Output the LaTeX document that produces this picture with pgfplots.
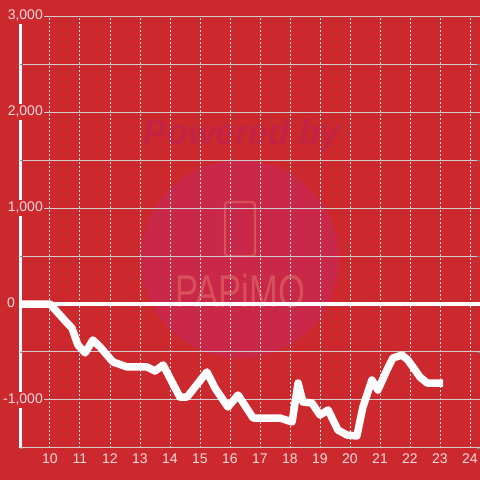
\documentclass[border=0pt]{standalone}
\usepackage{fontspec}
\setmainfont{Liberation Sans}
\usepackage{graphicx}
\usepackage{pgfplots}
\pgfplotsset{compat=1.18}
\usetikzlibrary{backgrounds}
\definecolor{bg}{RGB}{204,41,47}
\definecolor{wm}{RGB}{201,40,72}
\definecolor{wmtext}{RGB}{196,36,68}
\definecolor{wmlight}{RGB}{216,80,92}
\definecolor{ticktext}{RGB}{244,218,218}
\definecolor{hgrid}{RGB}{212,204,204}
\definecolor{vgrid}{RGB}{236,226,226}

\begin{document}
\begin{tikzpicture}
\begin{axis}[
  scale only axis, width=460pt, height=432pt,
  xmin=9, xmax=24.3333, ymin=-1500, ymax=3000,
  axis line style={draw=none},
  major tick length=0pt,
  xtick={10,11,...,24},
  ytick={-1000,1000,2000,3000},
  yticklabels={{\llap{-}1,000},{1,000},{2,000},{3,000}},
  minor ytick={-1500,-500,500,1500,2500},
  extra y ticks={0}, extra y tick labels={0},
  extra y tick style={yticklabel style={xshift=-28pt}},
  xmajorgrids, ymajorgrids, yminorgrids,
  x grid style={vgrid, line width=1pt, dash pattern=on 2pt off 2pt},
  y grid style={hgrid, line width=1pt, solid},
  minor grid style={hgrid, line width=1pt, solid},
  /pgf/number format/assume math mode=true,
  tick label style={text=ticktext},
  yticklabel style={font=\fontsize{14}{16}\selectfont, anchor=east,
    xshift=24.5pt, fill=bg, inner sep=1.5pt, text height=10pt, text depth=3pt},
  xticklabel style={font=\fontsize{14}{16}\selectfont, yshift=-2.5pt},
]
\coordinate (ll) at (rel axis cs:0,0);
\coordinate (ur) at (rel axis cs:1,1);
\addplot[white, line width=3.5pt, forget plot] coordinates {(9,0) (24.3333,0)};
\addplot[white, line width=7.5pt, line join=round] coordinates {
(9.0,0) (10.0,0) (10.27,-94) (10.57,-198) (10.73,-250) (10.93,-427)
(11.17,-510) (11.43,-375) (11.67,-448) (12.1,-604) (12.57,-656)
(13.23,-656) (13.5,-698) (13.77,-635) (14.33,-969) (14.57,-969)
(15.23,-708) (15.5,-875) (15.93,-1073) (16.27,-948) (16.77,-1188)
(17.67,-1188) (18.07,-1229) (18.27,-823) (18.43,-1021) (18.73,-1031)
(19.0,-1156) (19.27,-1104) (19.6,-1313) (19.9,-1365) (20.23,-1375)
(20.43,-1073) (20.73,-792) (20.93,-896) (21.23,-688) (21.43,-563)
(21.73,-531) (21.93,-583) (22.33,-760) (22.57,-823) (23.1,-823)
};
\end{axis}
% background, watermark and the y axis line, behind the axis
\begin{scope}[on background layer, shift={(ll)}, x=1pt, y=1pt]
\fill[bg] (-20,-32) rectangle (460,448);
\fill[wm] (220,189) circle (99);
\node[wmtext, font=\fontsize{35}{35}\selectfont\bfseries\itshape] at (222,313) {Powered by};
\draw[wmlight, line width=2.2pt, rounded corners=3pt] (205,192) rectangle (235,246);
\node[wmlight, font=\fontsize{46}{46}\selectfont] at (220,157) {\scalebox{0.75}[1]{PAPiMO}};
\draw[white, line width=3pt] (0.5,0) -- (0.5,432);
\end{scope}
\pgfresetboundingbox
\path[use as bounding box, shift={(ll)}, x=1pt, y=1pt] (-20,-32) rectangle (460,448);
\end{tikzpicture}
\end{document}
